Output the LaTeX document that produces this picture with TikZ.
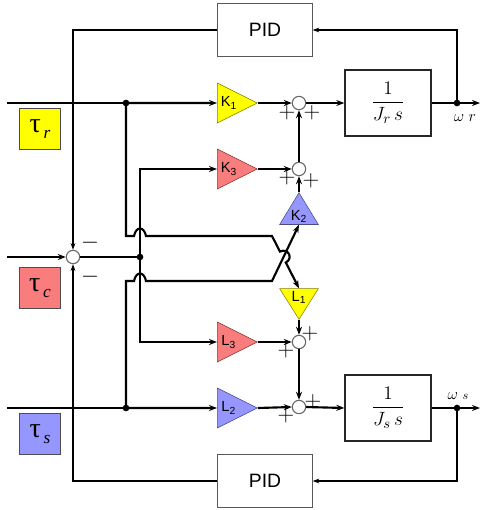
\documentclass[tikz,border=0pt]{standalone}
\usepackage{amsmath}
\usepackage{fontspec}
\setmainfont{Liberation Serif}
\setsansfont{Liberation Sans}
\usetikzlibrary{arrows.meta, shapes.geometric, positioning}
\definecolor{kyellow}{RGB}{255,255,0}
\definecolor{kred}{RGB}{250,125,125}
\definecolor{kblue}{RGB}{150,150,255}
\newcommand{\torq}[1]{{\fontsize{21}{21}\selectfont τ}\raisebox{-5pt}{\fontsize{13}{13}\selectfont\itshape\,#1}}
\tikzset{
  gainnode/.style={
    isosceles triangle, isosceles triangle stretches,
    inner sep=0pt, minimum width=30pt, minimum height=30pt,
    font=\sffamily\fontsize{11}{11}\selectfont, anchor=apex,
    draw=#1!50!black, fill=#1
  },
  sumnode/.style={
    circle, minimum size=10pt, inner sep=0pt,
    draw=gray!80!black, fill=white, thick
  },
  pidbox/.style={
    rectangle, minimum width=71pt, minimum height=40pt,
    font=\sffamily\fontsize{14.5}{16}\selectfont, draw=gray!70!black
  },
  plantbox/.style={
    rectangle, minimum width=64pt, minimum height=49pt,
    font=\fontsize{15}{17}\selectfont, line width=1.5pt, draw=black!85
  },
  torquebox/.style={
    rectangle, minimum size=30.5pt, inner sep=0pt,
    draw=gray!60!black, fill=#1
  },
  jdot/.style={circle, fill, inner sep=0pt, minimum size=5pt},
  sgnlabel/.style={inner sep=0pt, font=\fontsize{16}{16}\selectfont},
  sigline/.style={line width=1.6pt},
  sigarrow/.style={-{Stealth[length=6pt,width=4.5pt]}, line width=1.6pt},
  fbarrow/.style={-{Stealth[length=5pt,width=3.5pt]}, line width=0.8pt},
}

\begin{document}
\begin{tikzpicture}[x=0.75pt,y=-0.75pt]
      \useasboundingbox (0,0) rectangle (481,510);
      \node[pidbox](pidr)at(265,30) {PID};
      \node[pidbox](pids)at(265,481) {PID};
      \node[plantbox](plr)at(388,103) {$\dfrac{1}{J_r\,s}$};
      \node[plantbox](pls)at(388,408) {$\dfrac{1}{J_s\,s}$};
      \node[torquebox=kyellow](tr)at(40,129) {\torq{r}};
      \node[torquebox=kred](tc)at(40,288) {\torq{c}};
      \node[torquebox=kblue](ts)at(40,434) {\torq{s}};
      \node[gainnode=kyellow](kone)at(258,103) {K\textsubscript{1}};
      \node[gainnode=kred](kthree)at(258,169) {K\textsubscript{3}};
      \node[gainnode=kred](lthree)at(258,342) {L\textsubscript{3}};
      \node[gainnode=kblue](ltwo)at(258,408) {L\textsubscript{2}};
      \node[gainnode=kblue,shape border rotate=90,minimum width=29pt,minimum height=23pt](ktwo)at(299,192) {K\textsubscript{2}};
      \node[gainnode=kyellow,shape border rotate=270,minimum width=29pt,minimum height=23pt](lone)at(299,320) {L\textsubscript{1}};
      \node[sumnode](sone)at(299,103) {};
      \node[sumnode](stwo)at(299,169) {};
      \node[sumnode](sthree)at(299,342) {};
      \node[sumnode](sfour)at(299,407) {};
      \node[sumnode](sc)at(73,257) {};
      \node[jdot](jr)at(126,103) {};
      \node[jdot](js)at(126,408) {};
      \node[jdot](jc)at(140,257) {};
      \node[jdot](wr)at(457,103) {};
      \node[jdot](ws)at(457,408) {};
      \coordinate (inr) at (7,103);
      \coordinate (inc) at (7,257);
      \coordinate (ins) at (7,408);
      \coordinate (outr) at (480,103);
      \coordinate (outs) at (480,408);
      \node[sgnlabel](pa)at(287,113) {$+$};
      \node[sgnlabel](pb)at(312,113) {$+$};
      \node[sgnlabel](pc)at(287,178) {$+$};
      \node[sgnlabel](pd)at(311,181) {$+$};
      \node[sgnlabel](pe)at(310,334) {$+$};
      \node[sgnlabel](pf)at(286,351) {$+$};
      \node[sgnlabel](pg)at(313,402) {$+$};
      \node[sgnlabel](ph)at(286,416) {$+$};
      \node[sgnlabel](ma)at(90,243) {$-$};
      \node[sgnlabel](mb)at(90,277) {$-$};
      \node[font=\fontsize{13}{13}\selectfont](wrlabel)at(465,118) {$\omega\;r$};
      \node[font=\fontsize{13}{13}\selectfont](wslabel)at(458,396) {$\omega\;{\scriptstyle s}$};
      \draw[sigline](inr)--(jr.center);
      \draw[sigarrow](jr.center)--(kone.west);
      \draw[sigarrow](kone.apex)--(sone.west);
      \draw[sigarrow](sone.east)--(plr.west);
      \draw[sigarrow](plr.east)--(outr);
      \draw[fbarrow](wr.center)|-(pidr.east);
      \draw[fbarrow](pidr.west)-|(sc.north);
      \draw[sigarrow](inc)--(sc.west);
      \draw[sigline](sc.east)--(jc.center);
      \draw[sigarrow](jc.center)|-(kthree.west);
      \draw[sigarrow](jc.center)|-(lthree.west);
      \draw[sigarrow](kthree.apex)--(stwo.west);
      \draw[sigarrow](ktwo.apex)--(stwo.south);
      \draw[sigarrow](stwo.north)--(sone.south);
      \draw[sigarrow](jr.center)--(126,236)--(134,236) .. controls (136,226) and (144,226) .. (146,236)--(272,236)--(280,251.6) .. controls (288.1,247.5) and (293.8,258.4) .. (285.8,262.5)--(lone.north);
      \draw[sigarrow](js.center)--(126,281)--(134,281) .. controls (136,271) and (144,271) .. (146,281)--(272,281)--(ktwo.south);
      \draw[sigarrow](lone.apex)--(sthree.north);
      \draw[sigarrow](lthree.apex)--(sthree.west);
      \draw[sigarrow](sthree.south)--(sfour.north);
      \draw[sigline](ins)--(js.center);
      \draw[sigarrow](js.center)--(ltwo.west);
      \draw[sigarrow](ltwo.apex)--(sfour.west);
      \draw[sigarrow](sfour.east)--(pls.west);
      \draw[sigarrow](pls.east)--(outs);
      \draw[fbarrow](ws.center)|-(pids.east);
      \draw[fbarrow](pids.west)-|(sc.south);
    \end{tikzpicture}
\end{document}
